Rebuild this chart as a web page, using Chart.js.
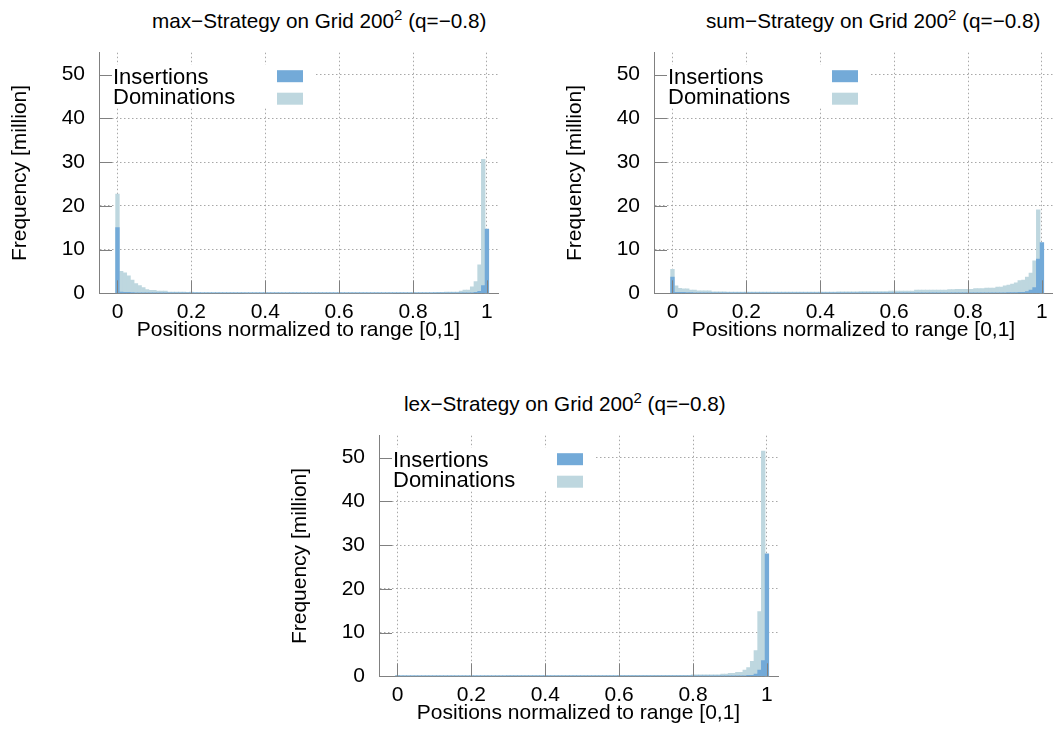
<!DOCTYPE html>
<html>
<head>
<meta charset="utf-8">
<script src="https://cdn.jsdelivr.net/npm/chart.js@4.4.0/dist/chart.umd.min.js"></script>
<style>
  body { margin: 0; background: #fff; }
  #page { position: relative; width: 1053px; height: 748px; overflow: hidden; font-family: 'Liberation Sans', Arial, sans-serif; }
  .title { position: absolute; font-size: 20.7px; line-height: 21px; white-space: nowrap; color: #000; }
  .title sup { font-size: 15px; vertical-align: baseline; position: relative; top: -8px; }
  canvas { position: absolute; }
</style>
</head>
<body>
<div id="page">
  <div class="title" style="left:152px; top:10px">max&minus;Strategy on Grid 200<sup>2</sup> (q=&minus;0.8)</div>
  <div class="title" style="left:706px; top:10px">sum&minus;Strategy on Grid 200<sup>2</sup> (q=&minus;0.8)</div>
  <div class="title" style="left:404px; top:393px">lex&minus;Strategy on Grid 200<sup>2</sup> (q=&minus;0.8)</div>
  <canvas id="maxChart" width="500" height="315" style="left:0px; top:40px"></canvas>
  <canvas id="sumChart" width="500" height="315" style="left:555px; top:40px"></canvas>
  <canvas id="lexChart" width="500" height="315" style="left:280px; top:423px"></canvas>
</div>
<script>
// histogram bins (normalized position), one bar per bin
const bins = [
  0.00, 0.01, 0.02, 0.03, 0.04, 0.05, 0.06, 0.07, 0.08, 0.09,
  0.10, 0.11, 0.12, 0.13, 0.14, 0.15, 0.16, 0.17, 0.18, 0.19,
  0.20, 0.21, 0.22, 0.23, 0.24, 0.25, 0.26, 0.27, 0.28, 0.29,
  0.30, 0.31, 0.32, 0.33, 0.34, 0.35, 0.36, 0.37, 0.38, 0.39,
  0.40, 0.41, 0.42, 0.43, 0.44, 0.45, 0.46, 0.47, 0.48, 0.49,
  0.50, 0.51, 0.52, 0.53, 0.54, 0.55, 0.56, 0.57, 0.58, 0.59,
  0.60, 0.61, 0.62, 0.63, 0.64, 0.65, 0.66, 0.67, 0.68, 0.69,
  0.70, 0.71, 0.72, 0.73, 0.74, 0.75, 0.76, 0.77, 0.78, 0.79,
  0.80, 0.81, 0.82, 0.83, 0.84, 0.85, 0.86, 0.87, 0.88, 0.89,
  0.90, 0.91, 0.92, 0.93, 0.94, 0.95, 0.96, 0.97, 0.98, 0.99,
  1.00
];

// frequencies in million
const maxIns = [
  15.0, 0.3, 0.25, 0.2, 0.15, 0.1, 0.1, 0.08, 0.06, 0.05,
  0.05, 0.04, 0.04, 0.03, 0.03, 0.03, 0.02, 0.02, 0.02, 0.02,
  0.02, 0.01, 0.01, 0.01, 0.01, 0.01, 0.01, 0.01, 0.01, 0.01,
  0.01, 0.01, 0.01, 0.01, 0.01, 0.01, 0.01, 0.01, 0.01, 0.01,
  0.01, 0.01, 0.01, 0.01, 0.01, 0.01, 0.01, 0.01, 0.01, 0.01,
  0.01, 0.01, 0.01, 0.01, 0.01, 0.01, 0.01, 0.01, 0.01, 0.01,
  0.01, 0.01, 0.01, 0.01, 0.01, 0.01, 0.01, 0.01, 0.01, 0.01,
  0.01, 0.01, 0.01, 0.01, 0.01, 0.01, 0.01, 0.01, 0.01, 0.01,
  0.01, 0.01, 0.01, 0.01, 0.01, 0.01, 0.01, 0.02, 0.02, 0.02,
  0.02, 0.02, 0.03, 0.03, 0.04, 0.05, 0.1, 0.2, 0.45, 1.75,
  14.7
];
const maxDom = [
  22.7, 5.0, 4.7, 4.0, 3.05, 2.2, 1.75, 1.3, 0.85, 0.7,
  0.7, 0.5, 0.5, 0.5, 0.3, 0.3, 0.3, 0.3, 0.3, 0.2,
  0.3, 0.15, 0.15, 0.12, 0.12, 0.1, 0.1, 0.1, 0.08, 0.08,
  0.07, 0.07, 0.06, 0.06, 0.06, 0.05, 0.05, 0.05, 0.05, 0.05,
  0.05, 0.05, 0.05, 0.05, 0.05, 0.05, 0.05, 0.05, 0.05, 0.05,
  0.05, 0.05, 0.05, 0.05, 0.05, 0.05, 0.05, 0.05, 0.05, 0.05,
  0.05, 0.05, 0.05, 0.05, 0.05, 0.05, 0.05, 0.05, 0.05, 0.05,
  0.05, 0.05, 0.05, 0.05, 0.05, 0.06, 0.06, 0.06, 0.07, 0.07,
  0.08, 0.08, 0.09, 0.1, 0.1, 0.12, 0.15, 0.2, 0.25, 0.3,
  0.3, 0.3, 0.3, 0.5, 0.75, 0.75, 1.5, 2.7, 6.5, 30.6,
  0
];
const sumIns = [
  3.7, 0.2, 0.2, 0.2, 0.15, 0.15, 0.1, 0.1, 0.1, 0.1,
  0.08, 0.08, 0.06, 0.06, 0.05, 0.05, 0.05, 0.05, 0.04, 0.04,
  0.04, 0.04, 0.04, 0.04, 0.04, 0.04, 0.04, 0.04, 0.04, 0.04,
  0.04, 0.04, 0.04, 0.04, 0.04, 0.04, 0.04, 0.04, 0.04, 0.04,
  0.04, 0.04, 0.04, 0.04, 0.04, 0.04, 0.04, 0.04, 0.04, 0.04,
  0.04, 0.04, 0.04, 0.04, 0.04, 0.04, 0.04, 0.04, 0.04, 0.04,
  0.05, 0.05, 0.05, 0.05, 0.05, 0.05, 0.05, 0.05, 0.05, 0.05,
  0.05, 0.05, 0.05, 0.05, 0.05, 0.05, 0.05, 0.05, 0.05, 0.05,
  0.06, 0.06, 0.07, 0.1, 0.07, 0.08, 0.08, 0.09, 0.1, 0.1,
  0.12, 0.15, 0.15, 0.15, 0.2, 0.25, 0.4, 0.75, 1.3, 7.8,
  11.6
];
const sumDom = [
  5.5, 1.7, 1.15, 1.0, 1.0, 0.75, 0.75, 0.55, 0.55, 0.55,
  0.55, 0.35, 0.35, 0.35, 0.35, 0.3, 0.3, 0.3, 0.3, 0.3,
  0.3, 0.3, 0.3, 0.3, 0.3, 0.3, 0.3, 0.3, 0.3, 0.3,
  0.3, 0.3, 0.3, 0.3, 0.3, 0.3, 0.3, 0.3, 0.3, 0.3,
  0.3, 0.3, 0.3, 0.3, 0.3, 0.32, 0.32, 0.32, 0.35, 0.35,
  0.35, 0.4, 0.4, 0.4, 0.4, 0.4, 0.4, 0.4, 0.4, 0.5,
  0.5, 0.5, 0.5, 0.5, 0.5, 0.5, 0.75, 0.75, 0.75, 0.75,
  0.75, 0.75, 0.75, 0.75, 0.75, 0.85, 0.85, 0.9, 0.9, 0.9,
  0.9, 0.9, 1.07, 1.07, 1.07, 1.2, 1.2, 1.2, 1.45, 1.45,
  1.7, 1.9, 2.1, 2.4, 2.9, 3.05, 3.7, 4.6, 7.4, 19.1,
  0
];
const lexIns = [
  0.05, 0.02, 0.02, 0.02, 0.02, 0.02, 0.02, 0.02, 0.02, 0.02,
  0.02, 0.02, 0.02, 0.02, 0.02, 0.02, 0.02, 0.02, 0.02, 0.02,
  0.02, 0.02, 0.02, 0.02, 0.02, 0.02, 0.02, 0.02, 0.02, 0.02,
  0.02, 0.02, 0.02, 0.02, 0.02, 0.02, 0.02, 0.02, 0.02, 0.02,
  0.02, 0.02, 0.02, 0.02, 0.02, 0.02, 0.02, 0.02, 0.02, 0.02,
  0.02, 0.02, 0.02, 0.02, 0.02, 0.02, 0.02, 0.02, 0.02, 0.02,
  0.02, 0.02, 0.02, 0.02, 0.02, 0.02, 0.02, 0.02, 0.02, 0.02,
  0.02, 0.02, 0.02, 0.02, 0.02, 0.02, 0.02, 0.02, 0.02, 0.02,
  0.02, 0.02, 0.02, 0.02, 0.02, 0.02, 0.02, 0.02, 0.02, 0.02,
  0.05, 0.05, 0.08, 0.1, 0.1, 0.2, 0.2, 0.5, 1.4, 3.6,
  28.0
];
const lexDom = [
  0.2, 0.1, 0.1, 0.1, 0.1, 0.1, 0.1, 0.1, 0.1, 0.1,
  0.1, 0.1, 0.1, 0.1, 0.1, 0.1, 0.1, 0.1, 0.1, 0.1,
  0.1, 0.1, 0.1, 0.1, 0.1, 0.1, 0.1, 0.1, 0.1, 0.1,
  0.15, 0.15, 0.15, 0.15, 0.15, 0.15, 0.15, 0.15, 0.15, 0.15,
  0.15, 0.15, 0.15, 0.15, 0.15, 0.15, 0.15, 0.15, 0.15, 0.15,
  0.15, 0.15, 0.15, 0.15, 0.15, 0.15, 0.15, 0.15, 0.15, 0.15,
  0.25, 0.25, 0.25, 0.25, 0.25, 0.25, 0.25, 0.25, 0.25, 0.25,
  0.25, 0.25, 0.25, 0.25, 0.25, 0.25, 0.25, 0.25, 0.25, 0.25,
  0.35, 0.35, 0.35, 0.35, 0.35, 0.35, 0.35, 0.35, 0.5, 0.5,
  0.7, 0.7, 0.9, 0.9, 1.4, 2.0, 3.4, 5.9, 14.8, 51.5,
  0
];

const seriesLabels = ['Insertions', 'Dominations'];
const xTicks = [0, 0.2, 0.4, 0.6, 0.8, 1];
const yTicks = [0, 10, 20, 30, 40, 50];

const insColor = '#73aad8';
const domColor = '#bed7df';
const axisColor = '#808080';
const gridColor = '#a8a8a8';

Chart.defaults.font.family = "'Liberation Sans', Arial, sans-serif";
Chart.defaults.color = '#000';

// gnuplot style key, text left and colour box right, on a white box
const keyBox = {
  id: 'keyBox',
  afterDatasetsDraw(chart) {
    const {ctx, chartArea: a} = chart;
    ctx.save();
    ctx.fillStyle = '#fff';
    ctx.fillRect(a.left + 1, a.top + 12, 216, 43);
    ctx.font = "22px 'Liberation Sans', Arial, sans-serif";
    chart.data.datasets.forEach((ds, i) => {
      ctx.fillStyle = '#000';
      ctx.fillText(ds.label, a.left + 14, a.top + 31.6 + i * 20);
      ctx.fillStyle = ds.backgroundColor;
      ctx.fillRect(a.left + 178, a.top + 17.5 + i * 22.5, 26, 12);
    });
    ctx.restore();
  }
};

// tick marks pointing into the plot
const inwardTicks = {
  id: 'inwardTicks',
  afterDatasetsDraw(chart) {
    const {ctx, chartArea: a, scales: {x, y}} = chart;
    ctx.save();
    ctx.strokeStyle = axisColor;
    ctx.lineWidth = 1;
    ctx.beginPath();
    x.ticks.forEach(t => {
      const px = Math.round(x.getPixelForValue(t.value)) + 0.5;
      ctx.moveTo(px, a.bottom);
      ctx.lineTo(px, a.bottom - 13);
    });
    y.ticks.forEach(t => {
      const py = Math.round(y.getPixelForValue(t.value)) + 0.5;
      ctx.moveTo(a.left, py);
      ctx.lineTo(a.left + 13, py);
    });
    ctx.stroke();
    ctx.restore();
  }
};

function makeChart(id, ins, dom) {
  return new Chart(document.getElementById(id), {
    type: 'bar',
    data: {
      datasets: [
        { label: seriesLabels[0], data: bins.map((b, i) => ({x: b, y: ins[i]})), backgroundColor: insColor },
        { label: seriesLabels[1], data: bins.map((b, i) => ({x: b, y: dom[i]})), backgroundColor: domColor }
      ]
    },
    options: {
      responsive: false,
      animation: false,
      devicePixelRatio: 1,
      layout: { padding: { top: 12.7, right: 2, left: 0, bottom: 0 } },
      datasets: { bar: { barPercentage: 1, categoryPercentage: 1, grouped: false, borderWidth: 0 } },
      plugins: { legend: { display: false }, tooltip: { enabled: false } },
      scales: {
        x: {
          type: 'linear', min: -0.05, max: 1.03, offset: false,
          afterBuildTicks: s => { s.ticks = xTicks.map(v => ({value: v})); },
          afterFit: s => { s.height = 61.7; s.paddingLeft = 0; s.paddingRight = 0; },
          grid: { offset: false, color: gridColor, drawTicks: false },
          border: { color: axisColor, dash: [1.5, 2.5] },
          ticks: { padding: 6, font: { size: 21 }, maxRotation: 0, callback: v => String(v) },
          title: { display: true, text: 'Positions normalized to range [0,1]', font: { size: 21 }, padding: { top: 0, bottom: 12.4 } }
        },
        y: {
          type: 'linear', min: 0, max: 55,
          afterBuildTicks: s => { s.ticks = yTicks.map(v => ({value: v})); },
          afterFit: s => { s.width = 99; s.paddingTop = 0; s.paddingBottom = 0; },
          grid: { color: gridColor, drawTicks: false },
          border: { color: axisColor, dash: [1.5, 2.5] },
          ticks: { padding: 14, font: { size: 21 }, callback: v => String(v) },
          title: { display: true, text: 'Frequency [million]', font: { size: 21 }, padding: { top: 7.4, bottom: 0 } }
        }
      }
    },
    plugins: [keyBox, inwardTicks]
  });
}

makeChart('maxChart', maxIns, maxDom);
makeChart('sumChart', sumIns, sumDom);
makeChart('lexChart', lexIns, lexDom);
</script>
</body>
</html>
